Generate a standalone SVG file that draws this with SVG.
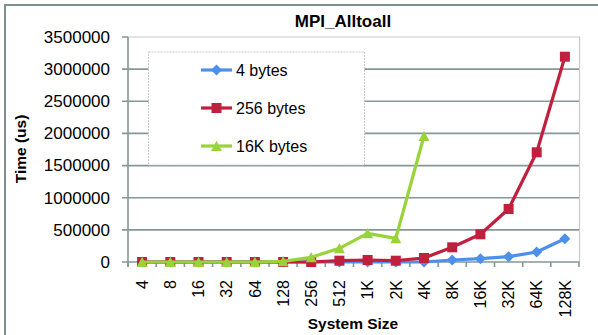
<svg xmlns="http://www.w3.org/2000/svg" width="598" height="335" viewBox="0 0 598 335">
<style>
text{font-family:"Liberation Sans",Arial,sans-serif;fill:#000}
.yl{font-size:17px;text-anchor:end}
.xl{font-size:16px;text-anchor:end}
.lg{font-size:16px}
.b{font-weight:bold}
.grid{stroke:#869797;stroke-width:1.6;fill:none}
.s{fill:none;stroke-width:3.2;stroke-linejoin:round}
</style>
<defs>
<marker id="mDia" markerUnits="userSpaceOnUse" markerWidth="14" markerHeight="14" refX="7" refY="7" overflow="visible"><path d="M7 1.5L12.5 7 7 12.5 1.5 7Z" fill="#4D90EC"/></marker>
<marker id="mSq" markerUnits="userSpaceOnUse" markerWidth="14" markerHeight="14" refX="7" refY="7" overflow="visible"><rect x="2" y="2" width="10" height="10" fill="#C0203E"/></marker>
<marker id="mTri" markerUnits="userSpaceOnUse" markerWidth="14" markerHeight="14" refX="7" refY="7" overflow="visible"><path d="M7 1.8L12.5 12 1.5 12Z" fill="#98D33A"/></marker>
</defs>
<rect x="0" y="0" width="598" height="335" fill="#fff"/>
<g id="frame">
<path d="M5 335V5H598" fill="none" stroke="#7F8F8F" stroke-width="2"/>
<path d="M128 37H579.5V262" fill="none" stroke="#C8C8C8" stroke-width="1.2"/>
</g>
<text id="title" class="b" x="343" y="27" font-size="17" text-anchor="middle">MPI_Alltoall</text>
<g id="grid">
<path class="grid" d="M122 69.1H579M122 101.3H579M122 133.4H579M122 165.6H579M122 197.7H579M122 229.9H579M122 37H128"/>
<path class="grid" d="M128 37V267M122 262H579.5"/>
<path class="grid" d="M128 262v5M156.2 262v5M184.4 262v5M212.6 262v5M240.8 262v5M269 262v5M297.1 262v5M325.3 262v5M353.5 262v5M381.7 262v5M409.9 262v5M438.1 262v5M466.3 262v5M494.5 262v5M522.7 262v5M550.8 262v5M579 262v5"/>
</g>
<g id="yaxis">
<text class="yl" x="110" y="43">3500000</text>
<text class="yl" x="110" y="75">3000000</text>
<text class="yl" x="110" y="107">2500000</text>
<text class="yl" x="110" y="139">2000000</text>
<text class="yl" x="110" y="171">1500000</text>
<text class="yl" x="110" y="203.5">1000000</text>
<text class="yl" x="110" y="235.5">500000</text>
<text class="yl" x="110" y="268">0</text>
<text class="b" font-size="15.5" text-anchor="middle" transform="translate(25.5 149) rotate(-90)">Time (us)</text>
</g>
<g id="xaxis">
<text class="xl" transform="translate(147.8 280) rotate(-90)">4</text>
<text class="xl" transform="translate(176 280) rotate(-90)">8</text>
<text class="xl" transform="translate(204.2 280) rotate(-90)">16</text>
<text class="xl" transform="translate(232.4 280) rotate(-90)">32</text>
<text class="xl" transform="translate(260.6 280) rotate(-90)">64</text>
<text class="xl" transform="translate(288.8 280) rotate(-90)">128</text>
<text class="xl" transform="translate(316.9 280) rotate(-90)">256</text>
<text class="xl" transform="translate(345.1 280) rotate(-90)">512</text>
<text class="xl" transform="translate(373.3 280) rotate(-90)">1K</text>
<text class="xl" transform="translate(401.5 280) rotate(-90)">2K</text>
<text class="xl" transform="translate(429.7 280) rotate(-90)">4K</text>
<text class="xl" transform="translate(457.9 280) rotate(-90)">8K</text>
<text class="xl" transform="translate(486.1 280) rotate(-90)">16K</text>
<text class="xl" transform="translate(514.3 280) rotate(-90)">32K</text>
<text class="xl" transform="translate(542.4 280) rotate(-90)">64K</text>
<text class="xl" transform="translate(570.6 280) rotate(-90)">128K</text>
<text class="b" x="353" y="329" font-size="15.5" text-anchor="middle">System Size</text>
</g>
<g id="series">
<polyline id="s4" class="s" stroke="#4D90EC" marker-start="url(#mDia)" marker-mid="url(#mDia)" marker-end="url(#mDia)" points="142.1,262 170.3,262 198.5,262 226.7,262 254.9,262 283.1,262 311.2,262 339.4,262 367.6,262 395.8,262 424,262 452.2,260 480.4,258.7 508.6,256.7 536.7,252 564.9,238.7"/>
<polyline id="s256" class="s" stroke="#C0203E" marker-start="url(#mSq)" marker-mid="url(#mSq)" marker-end="url(#mSq)" points="142.1,262 170.3,262 198.5,262 226.7,262 254.9,262 283.1,262 311.2,262 339.4,260.7 367.6,260 395.8,260.7 424,258 452.2,247.3 480.4,234.3 508.6,209 536.7,152.3 564.9,56.7"/>
<polyline id="s16k" class="s" stroke="#98D33A" marker-start="url(#mTri)" marker-mid="url(#mTri)" marker-end="url(#mTri)" points="142.1,262 170.3,262 198.5,262 226.7,262 254.9,262 283.1,261.3 311.2,257.3 339.4,248.3 367.6,233.3 395.8,238.3 424,136"/>
</g>
<g id="legend">
<rect x="148.5" y="52" width="216" height="113" fill="#fff" stroke="#C8C8C8" stroke-width="1" stroke-dasharray="2 1"/>
<path d="M201 70H216.5H232" stroke="#4D90EC" stroke-width="3.2" marker-mid="url(#mDia)" fill="none"/>
<path d="M201 108H216.5H232" stroke="#C0203E" stroke-width="3.2" marker-mid="url(#mSq)" fill="none"/>
<path d="M201 146H216.5H232" stroke="#98D33A" stroke-width="3.2" marker-mid="url(#mTri)" fill="none"/>
<text class="lg" x="236" y="75.7">4 bytes</text>
<text class="lg" x="236" y="113.7">256 bytes</text>
<text class="lg" x="236" y="151.7">16K bytes</text>
</g>
</svg>
